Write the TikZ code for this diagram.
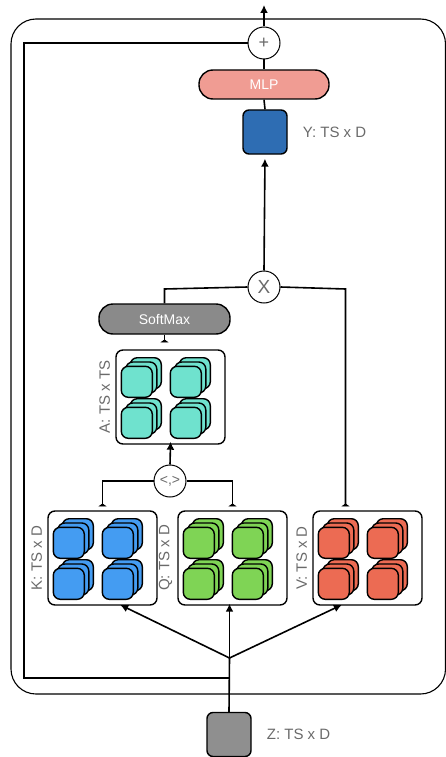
\documentclass[tikz,border=0pt]{standalone}
\usepackage{fontspec}
\setmainfont{Liberation Sans}
\usetikzlibrary{arrows.meta,calc}

\definecolor{kblue}{HTML}{449CF2}
\definecolor{qgreen}{HTML}{7FD455}
\definecolor{vred}{HTML}{EC6B53}
\definecolor{ateal}{HTML}{6FE2CE}
\definecolor{yblue}{HTML}{2E6DB3}
\definecolor{zgray}{HTML}{8F8F8F}
\definecolor{mlppink}{HTML}{F09C93}
\definecolor{smgray}{HTML}{8A8A8A}
\definecolor{txtgray}{HTML}{6A6A6A}

\tikzset{
  conn/.style={line width=1.6pt},
  arr/.style={conn,-{Latex[length=8pt,width=8pt]}},
  teeend/.style={conn,-{Latex[reversed,length=3pt,width=9pt]}},
  group/.style={draw,line width=1.4pt,rounded corners=7pt,fill=white,
    minimum width=109pt,minimum height=94pt,inner sep=0pt},
  tile/.style={draw,line width=1.4pt,rounded corners=7pt},
  tensor/.style={draw,line width=1.4pt,rounded corners=6pt,
    minimum width=44pt,minimum height=44pt,inner sep=0pt},
  pill/.style={draw,line width=1.4pt,rounded corners=14pt,text=white,
    font=\fontsize{14}{16}\selectfont,inner sep=0pt},
  opnode/.style={draw,circle,line width=1pt,fill=white,minimum size=32pt,
    inner sep=0pt,text=txtgray},
  dimlabel/.style={text=txtgray,font=\fontsize{15}{17}\selectfont,inner sep=2pt},
}

% three stacked tiles in each of the four slots of a group box
\newcommand\tilestack[2]{%
  \foreach \cx in {6,55}{\foreach \cy in {17,58}{
    \foreach \k in {2,1,0}{
      \draw[tile,fill=#2] ($(#1.north west)+(\cx+4.5*\k,\cy-4.3*\k)$) rectangle ++(31,31);
    }}}}

\begin{document}
\begin{tikzpicture}[x=1pt,y=-1pt]
\useasboundingbox (0,0) rectangle (446,757);

% outer block frame
\draw[line width=1.1pt,rounded corners=25pt] (11,19) rectangle (445.5,694);

% tensors
\node[tensor,fill=zgray] (Z) at (229,734.5) {};
\node[dimlabel,anchor=west] at ([xshift=13pt]Z.east) {Z: TS x D};
\node[tensor,fill=yblue] (Y) at (265,132) {};
\node[dimlabel,anchor=west] at ([xshift=13pt]Y.east) {Y: TS x D};

% K, Q, V groups
\node[group] (K) at (102.5,558) {};
\node[group] (Q) at (232.5,558) {};
\node[group] (V) at (367.5,558) {};
\tilestack{K}{kblue}
\tilestack{Q}{qgreen}
\tilestack{V}{vred}
\node[dimlabel,rotate=90,anchor=south] at ([xshift=-3pt]K.west) {K: TS x D};
\node[dimlabel,rotate=90,anchor=south] at ([xshift=-3pt]Q.west) {Q: TS x D};
\node[dimlabel,rotate=90,anchor=south] at ([xshift=-3pt]V.west) {V: TS x D};

% attention map
\node[group] (A) at (170.5,397) {};
\tilestack{A}{ateal}
\node[dimlabel,rotate=90,anchor=south] at ([xshift=-3pt]A.west) {A: TS x TS};

% operators
\node[opnode,font=\fontsize{14}{16}\selectfont] (dot) at (170,481) {<,>};
\node[opnode,font=\fontsize{19}{20}\selectfont] (mul) at (264,287) {X};
\node[opnode,font=\fontsize{18}{20}\selectfont] (add) at (264,43) {+};
\node[pill,fill=smgray,minimum width=131pt,minimum height=30pt] (SM) at (164.5,319) {SoftMax};
\node[pill,fill=mlppink,minimum width=130pt,minimum height=29pt] (MLP) at (264,84.5) {MLP};

% input fan-out
\coordinate (fork) at (229.5,658);
\coordinate (loop) at (229.5,678);
\draw[conn] (Z.north) -- (fork);
\draw[arr,shorten >=-2pt] (fork) -- (fork |- Q.south);
\draw[arr,shorten >=-2pt] (fork) -- ($(K.south)+(19.5,0)$);
\draw[arr,shorten >=-2pt] (fork) -- ($(V.south)+(-27.5,0)$);

% residual path
\draw[conn] (loop) -- (24,678) -- (24,43) -- (add.west);

% scores
\coordinate (kq) at (102.5,481);
\coordinate (qq) at (232.5,481);
\draw[teeend] (dot.west) -- (kq) -- ([yshift=4pt]K.north);
\draw[teeend] (dot.east) -- (qq) -- ([yshift=4pt]Q.north);
\draw[arr,shorten >=-3pt] (dot.north) -- (A.south);
\draw[teeend] (SM.south) -- ([yshift=7pt]A.north -| SM.south);

% weighting of values
\coordinate (smtop) at (164.5,289);
\coordinate (vtop) at (345.5,289);
\draw[conn] (mul.west) -- (smtop) -- (SM.north);
\draw[teeend] (mul.east) -- (vtop) -- ([yshift=4pt]V.north -| vtop);
\draw[arr,shorten >=4pt] (mul.north) -- (Y.south);

% output
\draw[conn] (Y.north) -- (MLP.south);
\draw[conn] (MLP.north) -- (add.south);
\coordinate (out) at (264,5);
\draw[arr] (add.north) -- (out);
\end{tikzpicture}
\end{document}
